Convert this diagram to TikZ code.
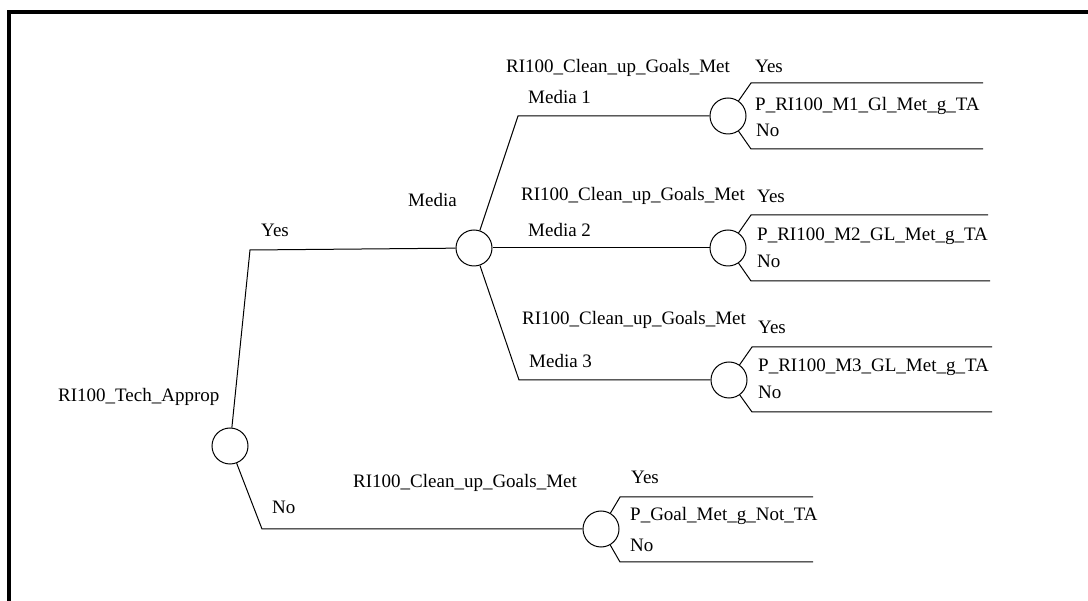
\documentclass[tikz,border=0pt]{standalone}
\usepackage{fontspec}
\setmainfont{Liberation Serif}
\newlength{\du}
\setlength{\du}{1pt}
\definecolor{dialinecolor}{rgb}{0.000000, 0.000000, 0.000000}
\tikzset{
  chance/.style={circle, draw=dialinecolor, fill=white, line width=1\du, minimum size=36\du, inner sep=0pt},
  branch/.style={draw=dialinecolor, line width=1\du},
  lbl/.style={anchor=base west, inner sep=0pt, font=\fontsize{19\du}{22\du}\selectfont},
}
\begin{document}
\begin{tikzpicture}
\pgftransformxscale{1.000000}
\pgftransformyscale{-1.000000}
\useasboundingbox (0\du,0\du) rectangle (1088\du,601\du);
% frame
\draw[line width=3.5\du] (9\du,601\du)--(9\du,12\du)--(1088\du,12\du);
% decision on technology
\node[chance] (techapprop) at (230\du,446\du){};
\node[lbl] (techlbl) at (58\du,402\du){RI100\_Tech\_Approp};
\coordinate (yesbend) at (250\du,250\du);
\coordinate (nobend) at (262\du,529\du);
\node[lbl] (yeslbl) at (261\du,237\du){Yes};
\node[lbl] (nolbl) at (272\du,514\du){No};
% media node
\node[chance] (media) at (474\du,248\du){};
\node[lbl] (medialbl) at (408\du,207\du){Media};
\draw[branch] (techapprop)--(yesbend)--(media);
% no branch
\node[chance] (goalsnota) at (601\du,529\du){};
\draw[branch] (techapprop)--(nobend)--(goalsnota);
\node[lbl] (goalsnotalbl) at (353\du,488\du){RI100\_Clean\_up\_Goals\_Met};
\coordinate (nayesbend) at (620\du,497\du);
\coordinate (nayesend) at (813\du,497\du);
\coordinate (nanobend) at (620\du,562\du);
\coordinate (nanoend) at (813\du,562\du);
\draw[branch] (goalsnota)--(nayesbend)--(nayesend);
\draw[branch] (goalsnota)--(nanobend)--(nanoend);
\node[lbl] (nayeslbl) at (631\du,484\du){Yes};
\node[lbl] (naplbl) at (630\du,521\du){P\_Goal\_Met\_g\_Not\_TA};
\node[lbl] (nanolbl) at (630\du,552\du){No};
% media 1
\coordinate (m1bend) at (518\du,116\du);
\node[chance] (goals1) at (728\du,116\du){};
\draw[branch] (media)--(m1bend)--(goals1);
\node[lbl] (goals1lbl) at (506\du,73\du){RI100\_Clean\_up\_Goals\_Met};
\node[lbl] (m1lbl) at (528\du,104\du){Media 1};
\coordinate (m1yesbend) at (751\du,83\du);
\coordinate (m1yesend) at (983\du,83\du);
\coordinate (m1nobend) at (751\du,149\du);
\coordinate (m1noend) at (983\du,149\du);
\draw[branch] (goals1)--(m1yesbend)--(m1yesend);
\draw[branch] (goals1)--(m1nobend)--(m1noend);
\node[lbl] (m1yeslbl) at (755\du,73\du){Yes};
\node[lbl] (m1plbl) at (755\du,111\du){P\_RI100\_M1\_Gl\_Met\_g\_TA};
\node[lbl] (m1nolbl) at (756\du,137\du){No};
% media 2
\node[chance] (goals2) at (728\du,248\du){};
\draw[branch] (media)--(goals2);
\node[lbl] (goals2lbl) at (521\du,201\du){RI100\_Clean\_up\_Goals\_Met};
\node[lbl] (m2lbl) at (528\du,237\du){Media 2};
\coordinate (m2yesbend) at (751\du,215\du);
\coordinate (m2yesend) at (988\du,215\du);
\coordinate (m2nobend) at (751\du,281\du);
\coordinate (m2noend) at (990\du,281\du);
\draw[branch] (goals2)--(m2yesbend)--(m2yesend);
\draw[branch] (goals2)--(m2nobend)--(m2noend);
\node[lbl] (m2yeslbl) at (757\du,203\du){Yes};
\node[lbl] (m2plbl) at (757\du,241\du){P\_RI100\_M2\_GL\_Met\_g\_TA};
\node[lbl] (m2nolbl) at (757\du,268\du){No};
% media 3
\coordinate (m3bend) at (519\du,380\du);
\node[chance] (goals3) at (729\du,380\du){};
\draw[branch] (media)--(m3bend)--(goals3);
\node[lbl] (goals3lbl) at (522\du,325\du){RI100\_Clean\_up\_Goals\_Met};
\node[lbl] (m3lbl) at (529\du,368\du){Media 3};
\coordinate (m3yesbend) at (752\du,347\du);
\coordinate (m3yesend) at (992\du,347\du);
\coordinate (m3nobend) at (752\du,412\du);
\coordinate (m3noend) at (992\du,412\du);
\draw[branch] (goals3)--(m3yesbend)--(m3yesend);
\draw[branch] (goals3)--(m3nobend)--(m3noend);
\node[lbl] (m3yeslbl) at (758\du,334\du){Yes};
\node[lbl] (m3plbl) at (758\du,372\du){P\_RI100\_M3\_GL\_Met\_g\_TA};
\node[lbl] (m3nolbl) at (758\du,399\du){No};
\end{tikzpicture}
\end{document}
